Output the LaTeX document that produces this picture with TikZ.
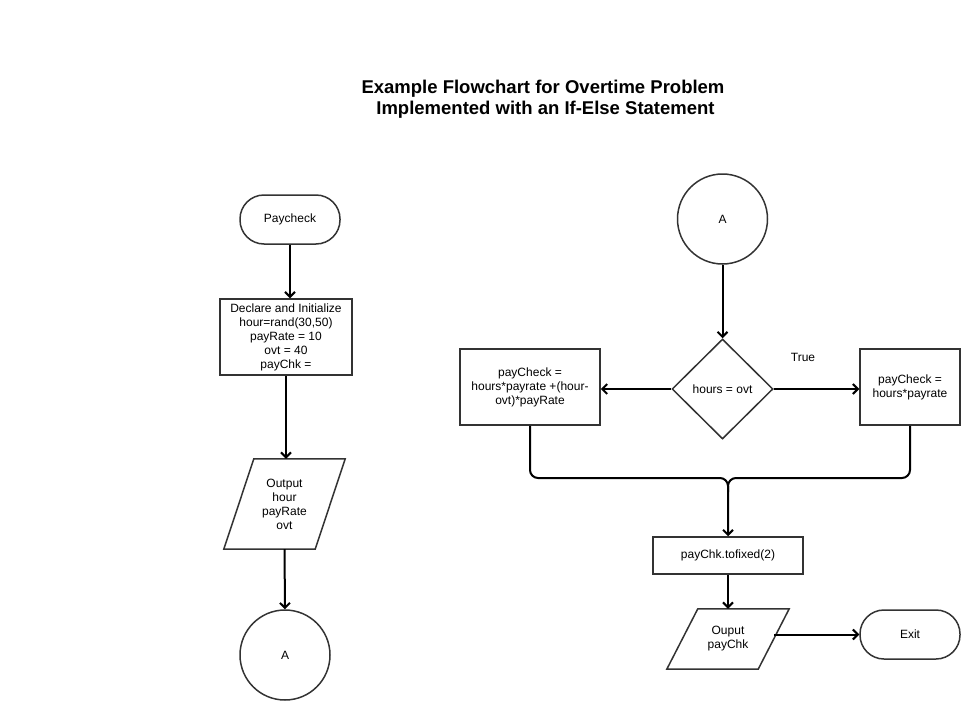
\documentclass[tikz,border=0pt]{standalone}
\usepackage{fontspec}
\setmainfont{Liberation Sans}
\usetikzlibrary{arrows.meta,shapes.geometric}

\begin{document}
\begin{tikzpicture}[x=1pt, y=-1pt,
    every node/.style={font=\fontsize{12}{14}\selectfont, align=center},
    box/.style={rectangle, draw=black!80, line width=1.5pt, inner sep=2pt},
    term/.style={rectangle, rounded corners=24pt, draw=black!80, line width=1.5pt, minimum width=100pt, minimum height=49pt},
    conn/.style={circle, draw=black!80, line width=1.5pt, minimum size=90pt},
    outline/.style={draw=black!80, line width=1.5pt},
    flow/.style={-{Straight Barb[length=5pt,width=10pt]}, line width=2pt}]
    \useasboundingbox (0,0) rectangle (980,720);

    % Title
    \node[font=\bfseries\fontsize{18.5}{21}\selectfont] (title) at (543,99) {Example Flowchart for Overtime Problem\\\hspace*{5pt}Implemented with an If-Else Statement};

    % Left column
    \node[term] (start) at (290,219.5) {Paycheck};
    \node[box, minimum width=132pt, minimum height=76pt] (init) at (286,337) {Declare and Initialize\\hour=rand(30,50)\\payRate = 10\\ovt = 40\\payChk =};
    \node[minimum width=121pt, minimum height=90pt] (outA) at (284.5,504) {Output\\hour\\payRate\\ovt};
    \draw[outline] ([xshift=30pt]outA.north west) -- (outA.north east) -- ([xshift=-30pt]outA.south east) -- (outA.south west) -- cycle;
    \node[conn] (linkL) at (285,655) {A};

    \draw[flow] (start.south) -- (start.south |- init.north);
    \draw[flow] (init.south) -- (init.south |- outA.north);
    \draw[flow] (outA.south) -- (linkL.north);

    % Right column
    \node[conn] (linkR) at (722.5,219) {A};
    \node[diamond, draw=black!80, line width=1.5pt, inner sep=0pt, minimum width=101pt, minimum height=100pt] (test) at (722.5,389) {hours = ovt};
    \node[box, minimum width=140pt, minimum height=76pt] (payOT) at (530,387) {payCheck =\\hours*payrate +(hour-\\ovt)*payRate};
    \node[box, minimum width=100pt, minimum height=76pt] (payReg) at (910,387) {payCheck =\\hours*payrate};
    \node (true) at (803,357) {True};
    \node[box, minimum width=150pt, minimum height=37pt] (fix) at (728,555.5) {payChk.tofixed(2)};
    \node[minimum width=122pt, minimum height=60pt] (outB) at (728,639) {Ouput\\payChk};
    \draw[outline] ([xshift=31pt]outB.north west) -- (outB.north east) -- ([xshift=-31pt]outB.south east) -- (outB.south west) -- cycle;
    \node[term] (exit) at (910,634.5) {Exit};

    \coordinate (join) at (728,478);
    \coordinate (outBr) at (774,634.5);

    \draw[flow] (linkR.south) -- (test.north);
    \draw[flow] (test.west) -- (test.west -| payOT.east);
    \draw[flow] (test.east) -- (test.east -| payReg.west);
    \draw[flow, rounded corners=8pt] (payOT.south) |- (join) -- (fix.north);
    \draw[line width=2pt, rounded corners=8pt] (payReg.south) |- (join) -- ++(0,14);
    \draw[flow] (fix.south) -- (outB.north);
    \draw[flow] (outBr) -- (exit.west);
\end{tikzpicture}
\end{document}
